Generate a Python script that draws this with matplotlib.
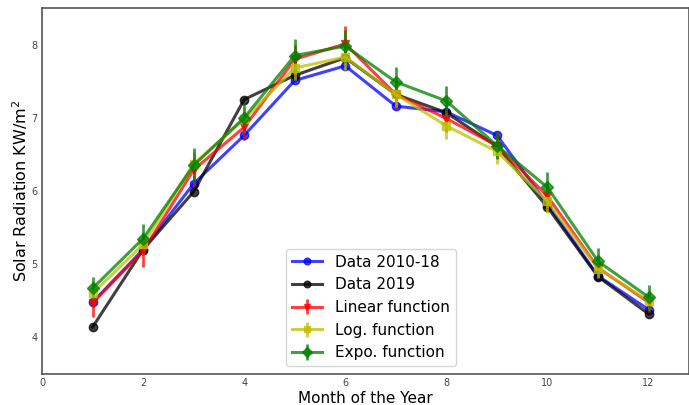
import numpy as np
import matplotlib.pyplot as plt

months = np.arange(1, 13)

data_2010_18 = [4.48, 5.20, 6.10, 6.76, 7.51, 7.71, 7.16, 7.08, 6.76, 5.82, 4.84, 4.38]
data_2019 = [4.14, 5.20, 5.99, 7.25, 7.58, 7.82, 7.32, 7.07, 6.61, 5.78, 4.83, 4.32]
linear = [4.47, 5.18, 6.29, 6.87, 7.80, 8.01, 7.32, 6.99, 6.62, 5.93, 4.95, 4.48]
log_fit = [4.60, 5.27, 6.37, 6.98, 7.68, 7.83, 7.32, 6.89, 6.54, 5.86, 4.94, 4.50]
expo = [4.67, 5.35, 6.35, 7.00, 7.85, 7.98, 7.49, 7.23, 6.62, 6.05, 5.04, 4.55]

linear_err = [0.19, 0.22, 0.22, 0.18, 0.20, 0.24, 0.20, 0.18, 0.17, 0.16, 0.13, 0.13]
log_err = [0.13, 0.15, 0.17, 0.17, 0.17, 0.18, 0.17, 0.18, 0.17, 0.16, 0.13, 0.12]
expo_err = [0.16, 0.20, 0.24, 0.20, 0.22, 0.22, 0.20, 0.20, 0.18, 0.21, 0.18, 0.17]

fig = plt.figure(figsize=(6.89, 4.05), dpi=100)
ax = fig.add_axes([42/689, 31/405, 647/689, 366/405])

ax.plot(months, data_2010_18, 'b-o', lw=2.2, ms=6, alpha=0.75, label='Data 2010-18')
ax.plot(months, data_2019, 'k-o', lw=2.2, ms=6, alpha=0.75, label='Data 2019')
ax.errorbar(months, linear, yerr=linear_err, fmt='r-v', lw=2.2, ms=6, elinewidth=2,
            alpha=0.75, label='Linear function')
ax.errorbar(months, log_fit, yerr=log_err, fmt='y-s', lw=2.2, ms=6, elinewidth=2,
            alpha=0.75, label='Log. function')
ax.errorbar(months, expo, yerr=expo_err, fmt='g-D', lw=2.2, ms=6, elinewidth=2,
            alpha=0.75, label='Expo. function')

ax.set_xlim(0, 12.8)
ax.set_ylim(3.5, 8.5)
ax.set_xticks([0, 2, 4, 6, 8, 10, 12])
ax.set_yticks([4, 5, 6, 7, 8])
ax.tick_params(length=0, labelsize=7, colors='#444444', pad=3)
for s in ax.spines.values():
    s.set_color('#555555')
    s.set_linewidth(1.2)

ax.set_xlabel('Month of the Year', fontsize=11, labelpad=2)
ax.set_ylabel('Solar Radiation KW/m$^2$', fontsize=11.5, labelpad=1)
ax.legend(loc='lower center', fontsize=11, markerscale=0.8,
          bbox_to_anchor=(0.508, 0.0))

fig.savefig('out.png', dpi=100)
